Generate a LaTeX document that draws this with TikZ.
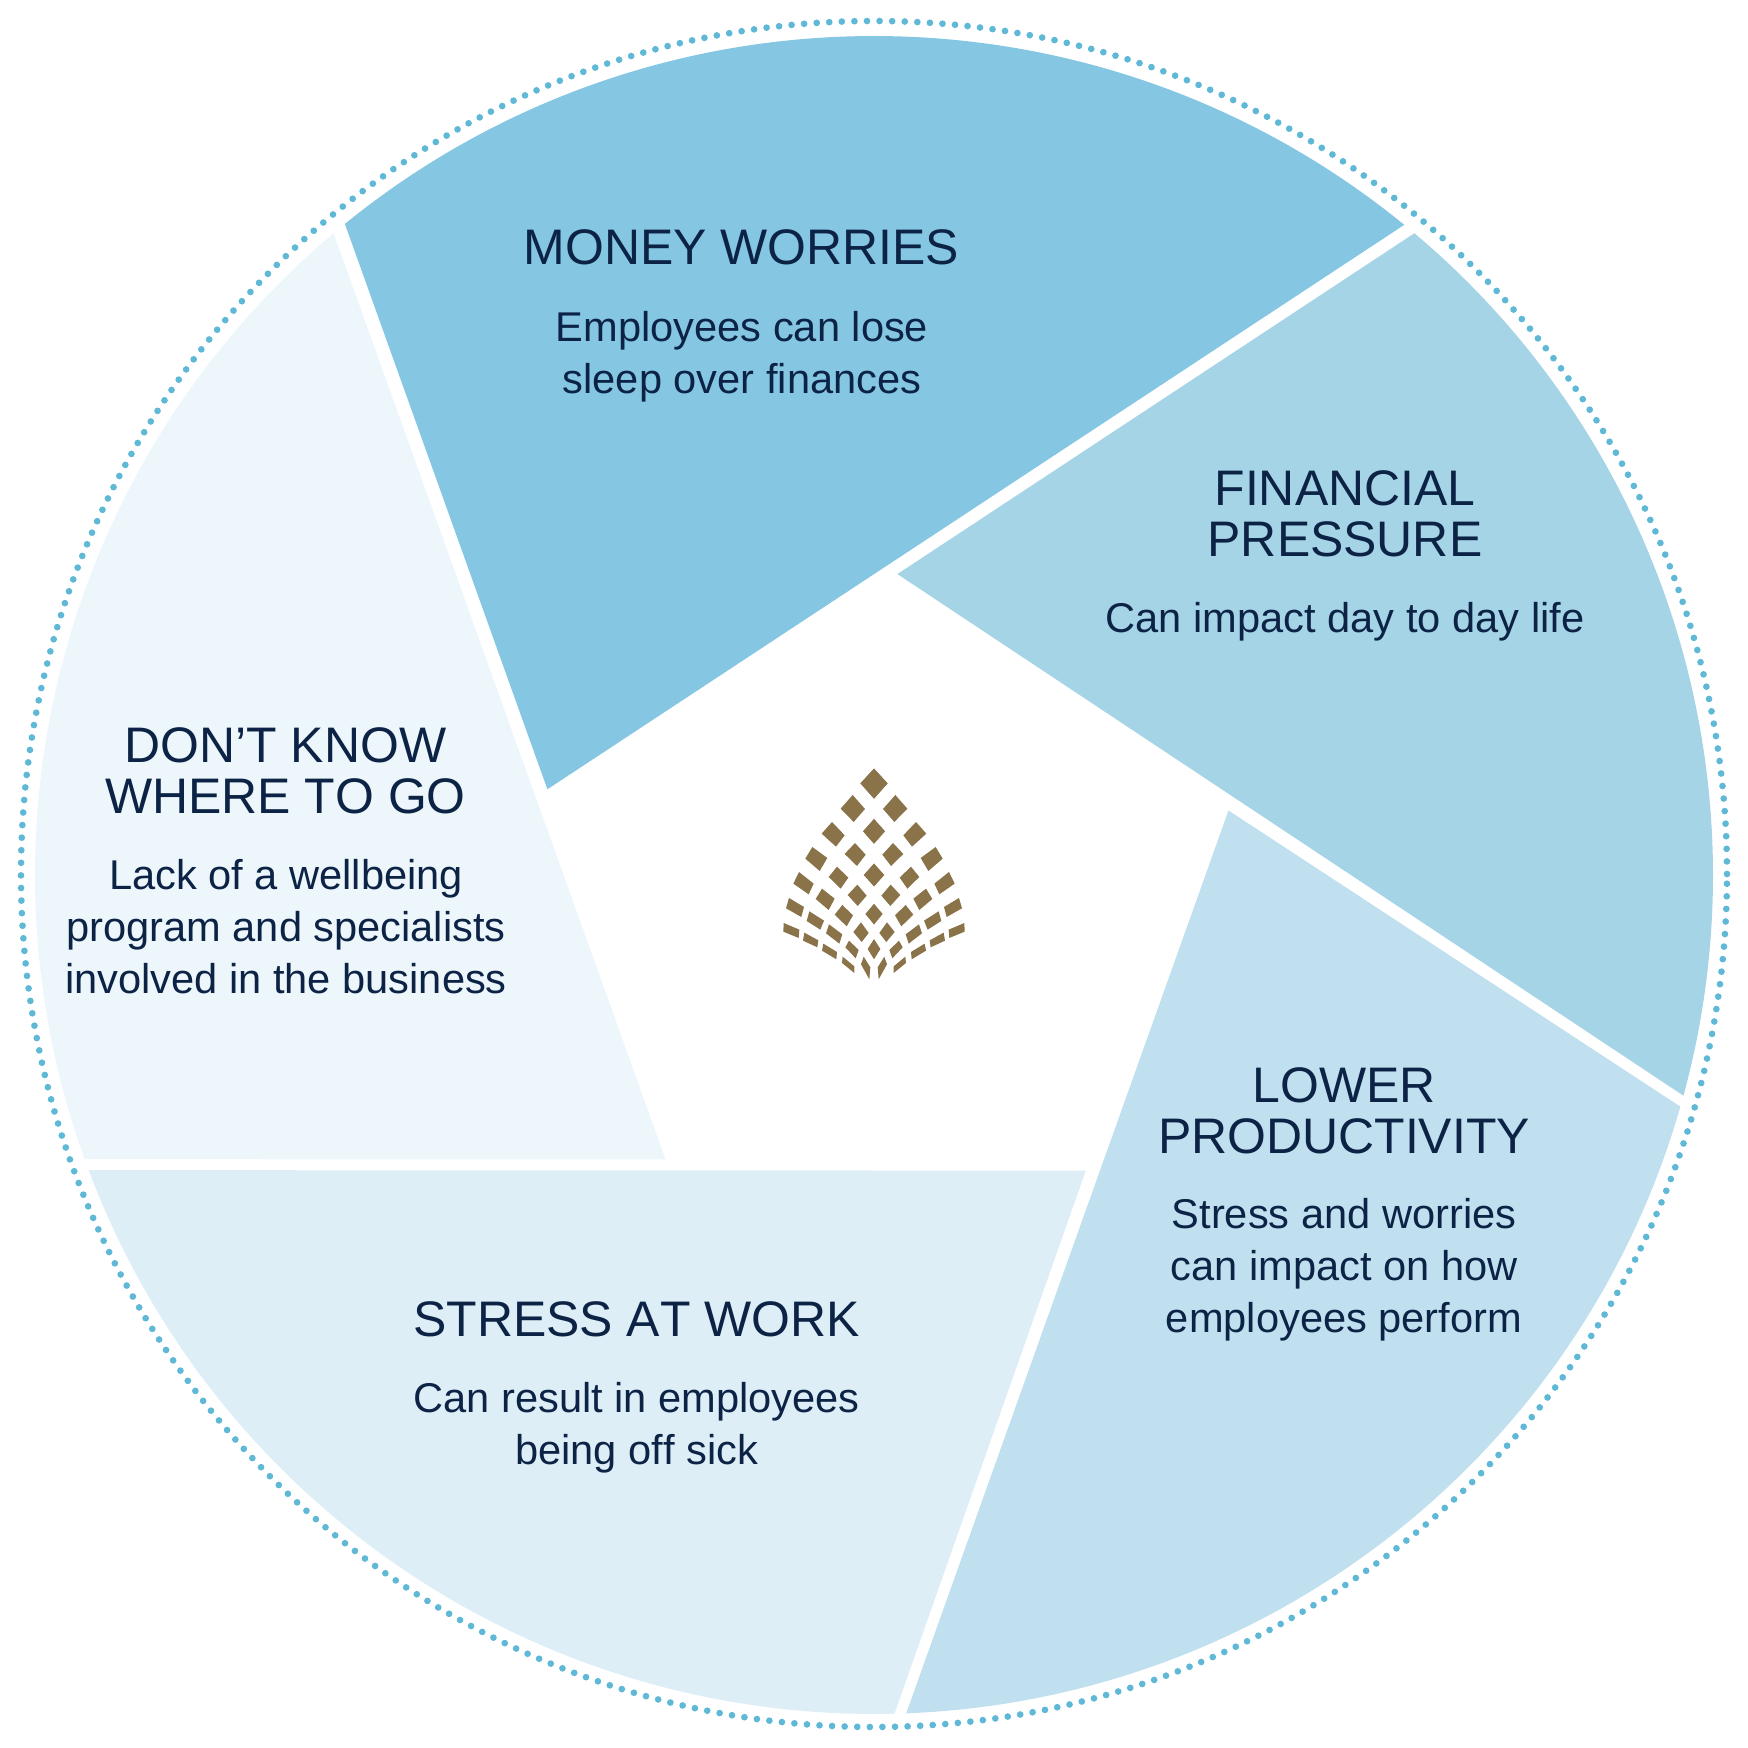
\documentclass[tikz,border=0pt]{standalone}
\usepackage{fontspec}
\setmainfont[Kerning=Off]{Liberation Sans}
\definecolor{navytext}{HTML}{0C2346}
\definecolor{ringblue}{HTML}{5FB8D6}
\definecolor{moneyblue}{HTML}{85C7E2}
\definecolor{pressureblue}{HTML}{A5D4E7}
\definecolor{lowerblue}{HTML}{C0E0F0}
\definecolor{stressblue}{HTML}{DDEEF6}
\definecolor{dontblue}{HTML}{ECF6FB}
\definecolor{logogold}{HTML}{8A7349}
\newcommand{\petal}[4]{\fill[logogold] #1 -- #2 -- #3 -- #4 -- cycle;}
\tikzset{
  headtext/.style={text=navytext,align=center,inner sep=0pt,font=\fontsize{14.2}{14.55}\selectfont},
  bodytext/.style={text=navytext,align=center,inner sep=0pt,font=\fontsize{11.83}{14.8}\selectfont},
  ringdots/.style={draw=ringblue,line width=1.9pt,line cap=round,dash pattern=on 0pt off 3.58pt}
}
\begin{document}
\begin{tikzpicture}[x=0.01cm,y=0.01cm]
  \useasboundingbox (0,0) rectangle (1748,1748);

  \coordinate (cc) at (874,873);
  \coordinate (ringc) at (874,874);
  \coordinate (moneyin) at (547.4,958.7);
  \coordinate (pressurein) at (897.4,1173.9);
  \coordinate (lowerin) at (1228.5,937.5);
  \coordinate (stressin) at (1085.8,577.4);
  \coordinate (dontin) at (665.5,588.6);

  \draw[ringdots] (ringc) circle (853);

  \fill[moneyblue] (cc) ++(129.1:839) arc[start angle=129.1,end angle=50.8,radius=839] -- (moneyin) -- cycle;
  \fill[pressureblue] (cc) ++(49.9:839) arc[start angle=49.9,end angle=-15.25,radius=839] -- (pressurein) -- cycle;
  \fill[lowerblue] (cc) ++(-16.03:839) arc[start angle=-16.03,end angle=-87.8,radius=839] -- (lowerin) -- cycle;
  \fill[stressblue] (cc) ++(-88.6:839) arc[start angle=-88.6,end angle=-159.4,radius=839] -- (stressin) -- cycle;
  \fill[dontblue] (cc) ++(-160.2:839) arc[start angle=-160.2,end angle=-229.9,radius=839] -- (dontin) -- cycle;

  \node[headtext] (moneyhead) at (741.4,1500.5) {MONEY WORRIES};
  \node[bodytext] (moneybody) at (742,1391.7) {Employees can lose\\sleep over finances};
  \node[headtext] (pressurehead) at (1345,1234.5) {FINANCIAL\\PRESSURE};
  \node[bodytext] (pressurebody) at (1345,1126.7) {Can impact day to day life};
  \node[headtext] (lowerhead) at (1344,637.5) {LOWER\\PRODUCTIVITY};
  \node[bodytext] (lowerbody) at (1344,478) {Stress and worries\\can impact on how\\employees perform};
  \node[headtext] (stresshead) at (636.6,429) {STRESS AT WORK};
  \node[bodytext] (stressbody) at (636.6,320.7) {Can result in employees\\being off sick};
  \node[headtext] (donthead) at (285.4,977.2) {DON’T KNOW\\WHERE TO GO};
  \node[bodytext] (dontbody) at (286,821) {Lack of a wellbeing\\program and specialists\\involved in the business};

  % logo, left half then its mirror image
  \foreach \s in {1,-1}{
    \begin{scope}[shift={(874,1018)},xscale=\s/3,yscale=-1/3,shift={(-401,0)}]
      \petal{(401,116)}{(442,160)}{(401,206)}{(361,160)}
      \petal{(401,267)}{(434,304)}{(401,341)}{(369,304)}
      \petal{(401,401)}{(432,435)}{(401,469)}{(372,435)}
      \petal{(401,522)}{(427,552)}{(401,583)}{(377,552)}
      \petal{(401,628)}{(420,657)}{(401,687)}{(383,657)}

      \petal{(337,195)}{(374,237)}{(340,276)}{(301,236)}
      \petal{(275,276)}{(313,316)}{(287,350)}{(244,311)}
      \petal{(216,351)}{(261,384)}{(238,423)}{(195,386)}
      \petal{(176,426)}{(220,461)}{(205,493)}{(159,461)}
      \petal{(146,504)}{(191,531)}{(183,561)}{(137,535)}
      \petal{(130,579)}{(177,599)}{(175,624)}{(129,605)}

      \petal{(344,339)}{(376,374)}{(350,408)}{(313,372)}
      \petal{(290,410)}{(324,443)}{(301,476)}{(265,441)}
      \petal{(245,476)}{(283,506)}{(265,540)}{(226,507)}
      \petal{(207,544)}{(251,572)}{(240,599)}{(199,573)}
      \petal{(192,608)}{(234,631)}{(231,652)}{(188,632)}

      \petal{(351,464)}{(379,497)}{(352,528)}{(322,495)}
      \petal{(306,525)}{(338,556)}{(319,589)}{(283,554)}
      \petal{(266,583)}{(306,613)}{(297,641)}{(257,610)}
      \petal{(249,641)}{(290,666)}{(288,688)}{(245,662)}

      \petal{(362,577)}{(385,609)}{(364,636)}{(339,606)}
      \petal{(326,632)}{(355,660)}{(346,685)}{(315,652)}
      \petal{(307,680)}{(342,709)}{(342,729)}{(305,699)}

      \petal{(370,680)}{(390,712)}{(387,748)}{(362,703)}
    \end{scope}
  }

\end{tikzpicture}
\end{document}
